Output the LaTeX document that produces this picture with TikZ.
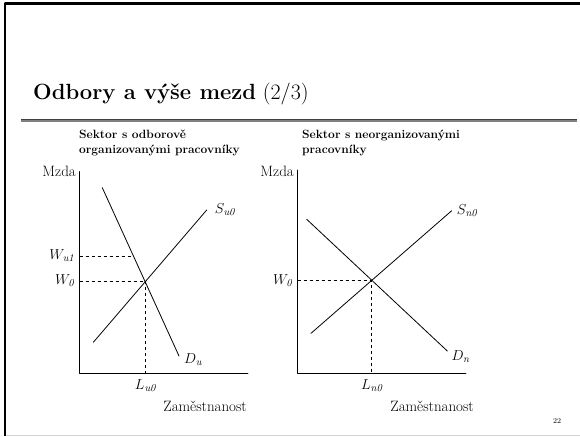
\documentclass[tikz,border=0pt]{standalone}
\usepackage{amsmath}
\usepackage{fontspec}
\usetikzlibrary{calc,positioning}

\begin{document}
\begin{tikzpicture}[x=1pt,y=-1pt,line join=round,line cap=round,
  lbl/.style={font=\fontsize{15}{17}\selectfont,inner sep=1pt},
  head/.style={font=\bfseries\fontsize{12}{14.5}\selectfont,align=left,inner sep=0pt},
  curve/.style={line width=0.8pt},
  guide/.style={dashed,line width=0.7pt,line cap=butt}]
  \useasboundingbox (0,0) rectangle (580,436);

  % frame and title
  \draw[line width=2.5pt,line cap=butt] (5.2,436) -- (5.2,3.7) -- (580,3.7);
  \draw[gray!35,line width=1pt] (6.5,435) -- (580,435);
  \node[anchor=base west,inner sep=0pt,font=\fontsize{22}{25}\selectfont] (title) at (33,99.5) {\textbf{Odbory a výše mezd} (2/3)};
  \draw[gray,line width=3pt,line cap=butt] (21,120) -- (577,120);
  \draw[gray!50!black,line width=1pt,line cap=butt] (21,119) -- (577,119);

  % left panel: unionised sector
  \coordinate (O1) at (79.5,373.5);
  \coordinate (Y1) at (79.5,171.5);
  \coordinate (X1) at (248,373.5);
  \coordinate (Da) at (102.3,187.7);
  \coordinate (Db) at (179,356);
  \coordinate (Sa) at (93.3,342.3);
  \coordinate (Sb) at (206.7,210);
  \coordinate (E1) at (145.5,281);
  \coordinate (Wh) at (79.5,256);
  \coordinate (Wh1) at (133.4,256);

  \node[head,anchor=north west] (h1) at (79,130) {Sektor s odborově\\organizovanými pracovníky};
  \draw[curve] (Y1) -- (O1) -- (X1);
  \draw[guide] (Wh) -- (Wh1);
  \draw[guide] (O1 |- E1) -- (E1) -- (E1 |- O1);
  \draw[curve] (Da) -- (Db);
  \draw[curve] (Sa) -- (Sb);

  \node[lbl,anchor=base east] (m1) at (77,176) {Mzda};
  \node[lbl,anchor=east] (wu1) at ([xshift=-4]Wh) {$W_{\textit{u1}}$};
  \node[lbl,anchor=east] (w1) at ([xshift=-4]O1 |- E1) {$W_{\textit{0}}$};
  \node[lbl,anchor=west] (su) at ([xshift=7]Sb) {$S_{\textit{u0}}$};
  \node[lbl,anchor=west] (du) at ([xshift=4,yshift=-4]Db) {$D_{\textit{u}}$};
  \node[lbl,anchor=north] (lu) at ([yshift=-5]E1 |- O1) {$L_{\textit{u0}}$};
  \node[lbl,anchor=base east] (z1) at (248,411) {Zaměstnanost};

  % right panel: non-unionised sector
  \coordinate (O2) at (297.5,373.5);
  \coordinate (Y2) at (297.5,170);
  \coordinate (X2) at (466,373.5);
  \coordinate (Na) at (306.7,219.3);
  \coordinate (Nb) at (447.3,351);
  \coordinate (Ta) at (311,333.3);
  \coordinate (Tb) at (451.7,210.7);
  \coordinate (E2) at (371.7,280.7);

  \node[head,anchor=north west] (h2) at (302,130) {Sektor s neorganizovanými\\pracovníky};
  \draw[curve] (Y2) -- (O2) -- (X2);
  \draw[guide] (O2 |- E2) -- (E2) -- (E2 |- O2);
  \draw[curve] (Na) -- (Nb);
  \draw[curve] (Ta) -- (Tb);

  \node[lbl,anchor=base east] (m2) at (295,176) {Mzda};
  \node[lbl,anchor=east] (w2) at ([xshift=-4]O2 |- E2) {$W_{\textit{0}}$};
  \node[lbl,anchor=west] (sn) at ([xshift=4]Tb) {$S_{\textit{n0}}$};
  \node[lbl,anchor=west] (dn) at ([xshift=3,yshift=-6]Nb) {$D_{\textit{n}}$};
  \node[lbl,anchor=north] (ln) at ([yshift=-5]E2 |- O2) {$L_{\textit{n0}}$};
  \node[lbl,anchor=base east] (z2) at (475,411) {Zaměstnanost};

  \node[font=\fontsize{7.5}{8}\selectfont] (pg) at (557,421) {22};
\end{tikzpicture}
\end{document}
